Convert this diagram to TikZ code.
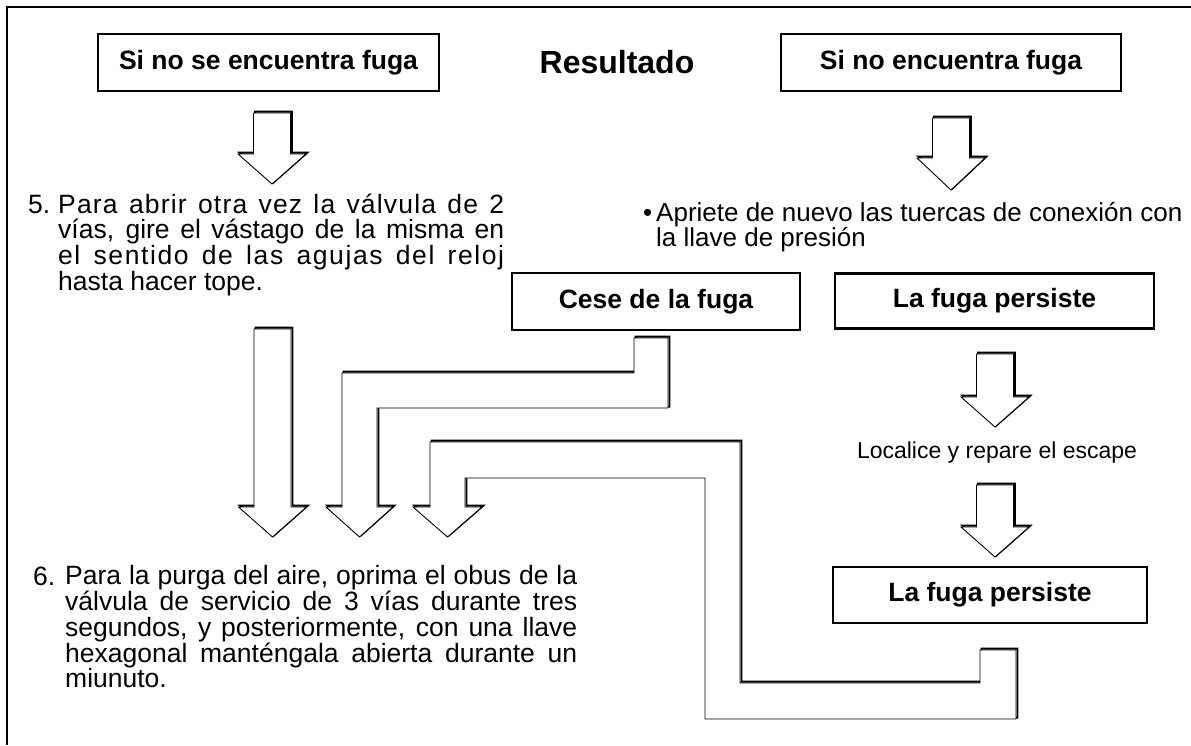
\documentclass[tikz,border=0pt]{standalone}
\usepackage{fontspec}
\setmainfont{Liberation Sans}
\usetikzlibrary{positioning}
\tolerance=9999
\hbadness=10000

% down block arrow: centre x, shaft top, shoulder, tip
\newcommand{\blkdown}[4]{%
  \foreach \st in {shd,blk}
    \draw[\st] (#1-18.5,#2) -- (#1+18.5,#2) -- (#1+18.5,#3) -- (#1+34,#3)
      -- (#1,#4) -- (#1-34,#3) -- (#1-18.5,#3) -- cycle;}
\newcommand{\spread}[2]{{\addfontfeature{LetterSpace=#1}#2}}

\begin{document}
\begin{tikzpicture}[x=1pt, y=-1pt,
  bx/.style={draw, line width=2.2pt, inner sep=0pt, minimum height=57pt,
             font=\bfseries\fontsize{26.5}{30}\selectfont},
  txt/.style={inner sep=0pt, font=\fontsize{26.5}{25.7}\selectfont},
  shd/.style={draw, line width=1.8pt, xshift=1.4pt, yshift=1.4pt},
  blk/.style={draw, fill=white, line width=0.9pt}]
\useasboundingbox (0,0) rectangle (1191,745);
\draw[line width=1.3pt] (7,745) -- (7,7) -- (1191,7);

% top row
\node[bx, minimum width=341pt] (sinoA) at (268.5,62.5) {Si no se encuentra fuga};
\node[font=\bfseries\fontsize{32}{36}\selectfont] (res) at (617,62) {Resultado};
\node[bx, minimum width=340pt] (sinoB) at (951,62.5) {Si no encuentra fuga};
\blkdown{272}{113}{154}{184}
\blkdown{951}{118}{158}{190}

% step 5 and the tightening
\node[txt, anchor=base west] (n5) at (28,213) {5.};
\node[txt, text width=446pt, align=justify, anchor=north west] (t5) at (58,193.5)
  {\spread{4.5}{Para abrir otra vez la válvula de 2}\linebreak vías, gire el vástago de la misma en\linebreak
   \spread{6}{el sentido de las agujas del reloj}\linebreak hasta hacer tope.};
\node[txt, font=\fontsize{26}{25.5}\selectfont, anchor=base west] (bul) at (643,221) {•};
\node[txt, font=\fontsize{26}{25.5}\selectfont, align=left, anchor=north west] (apr) at (656,202)
  {Apriete de nuevo las tuercas de conexión con\\la llave de presión};

% outcomes
\node[bx, minimum width=288pt] (cese) at (656,301.5) {Cese de la fuga};
\node[bx, minimum width=319pt, minimum height=55pt] (pers) at (994.5,301) {La fuga persiste};
\blkdown{995}{354}{397}{427}
\node[txt, font=\fontsize{23}{26}\selectfont, anchor=base] (loc) at (997,458) {Localice y repare el escape};
\blkdown{995}{485}{527}{557}
\node[bx, minimum width=314pt, minimum height=56pt] (pers2) at (990,595) {La fuga persiste};

% the three arrows into step 6
\blkdown{272.5}{329}{507}{537}
\foreach \st in {shd,blk}
  \draw[\st] (634,338) -- (668,338) -- (668,408) -- (377,408) -- (377,507) -- (393,507)
    -- (359.5,537) -- (326,507) -- (342,507) -- (342,373) -- (634,373) -- cycle;
\foreach \st in {shd,blk}
  \draw[\st] (430,442) -- (740,442) -- (740,683) -- (980,683) -- (980,650) -- (1016,650)
    -- (1016,719) -- (705,719) -- (705,478) -- (465,478) -- (465,507) -- (482,507)
    -- (447.5,537) -- (413,507) -- (430,507) -- cycle;

% step 6
\node[txt, anchor=base west] (n6) at (33,585) {6.};
\node[txt, text width=512pt, align=justify, anchor=north west] (t6) at (65,565.5)
  {Para la purga del aire, oprima el obus de la\linebreak válvula de servicio de 3 vías durante tres\linebreak
   segundos, y posteriormente, con una llave\linebreak hexagonal manténgala abierta durante un\linebreak miunuto.};
\end{tikzpicture}
\end{document}
